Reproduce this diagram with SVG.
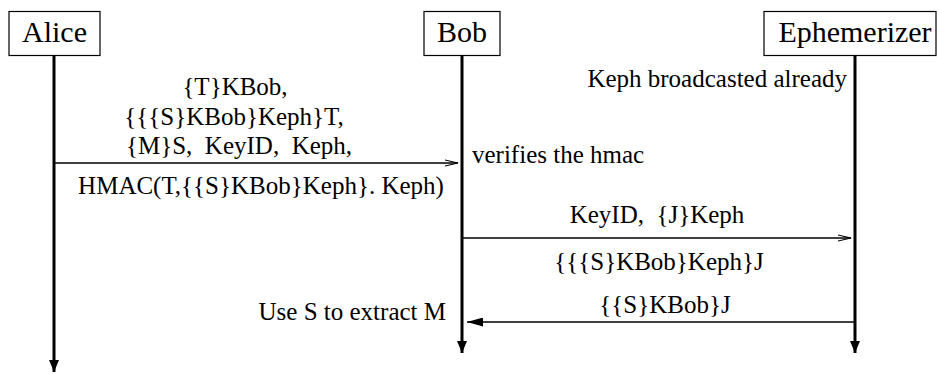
<svg xmlns="http://www.w3.org/2000/svg" width="937" height="374" viewBox="0 0 937 374">
<defs>
<style>
text{fill:#000}
.node{font-size:30px}
.lbl{font-size:25px}
.box{fill:#fff;stroke:#000;stroke-width:1.2}
.life{stroke:#000;stroke-width:3;fill:none}
.msg{stroke:#000;stroke-width:1.5;fill:none}
</style>
<marker id="down" markerWidth="12" markerHeight="10" refX="12" refY="5" orient="auto" markerUnits="userSpaceOnUse" viewBox="0 0 12 10">
<path d="M0,0 L12,5 L0,10 Z" fill="#000"/>
</marker>
<marker id="open" markerWidth="14" markerHeight="8" refX="13" refY="4" orient="auto" markerUnits="userSpaceOnUse" viewBox="0 0 14 8">
<path d="M0,1 L13,4 L0,7" fill="none" stroke="#000" stroke-width="1.2"/>
</marker>
<marker id="fill" markerWidth="16" markerHeight="9" refX="16" refY="4.5" orient="auto" markerUnits="userSpaceOnUse" viewBox="0 0 16 9">
<path d="M0,0 L16,4.5 L0,9 Z" fill="#000"/>
</marker>
</defs>
<g id="alice">
<rect class="box" x="9" y="11.5" width="91" height="44"/>
<text class="node" x="54.5" y="42" text-anchor="middle" font-family="Times">Alice</text>
</g>
<g id="bob">
<rect class="box" x="424" y="11.5" width="76" height="44"/>
<text class="node" x="462" y="42" text-anchor="middle" font-family="Times">Bob</text>
</g>
<g id="ephemerizer">
<rect class="box" x="764" y="11.5" width="172" height="44"/>
<text class="node" x="855" y="42" text-anchor="middle" font-family="Times">Ephemerizer</text>
</g>
<g id="connectors">
<line class="life" x1="54" y1="56" x2="54" y2="372" marker-end="url(#down)"/>
<line class="life" x1="462" y1="56" x2="462" y2="353" marker-end="url(#down)"/>
<line class="life" x1="855" y1="56" x2="855" y2="353" marker-end="url(#down)"/>
<line class="msg" x1="55" y1="163" x2="458" y2="163" marker-end="url(#open)"/>
<line class="msg" x1="463" y1="238" x2="851" y2="238" marker-end="url(#open)"/>
<line class="msg" x1="854" y1="322" x2="467" y2="322" marker-end="url(#fill)"/>
</g>
<g id="labels">
<text class="lbl" x="235" y="95" text-anchor="middle" font-family="Times">{T}KBob,</text>
<text class="lbl" x="234" y="125" text-anchor="middle" font-family="Times">{{{S}KBob}Keph}T,</text>
<text class="lbl" x="239" y="154" text-anchor="middle" xml:space="preserve" font-family="Times">{M}S,  KeyID,  Keph,</text>
<text class="lbl" x="261" y="194" text-anchor="middle" font-family="Times">HMAC(T,{{S}KBob}Keph}. Keph)</text>
<text class="lbl" x="847" y="87" text-anchor="end" font-family="Times">Keph broadcasted already</text>
<text class="lbl" x="472" y="163" font-family="Times">verifies the hmac</text>
<text class="lbl" x="657" y="223" text-anchor="middle" xml:space="preserve" font-family="Times">KeyID,  {J}Keph</text>
<text class="lbl" x="659" y="270" text-anchor="middle" font-family="Times">{{{S}KBob}Keph}J</text>
<text class="lbl" x="665" y="313" text-anchor="middle" font-family="Times">{{S}KBob}J</text>
<text class="lbl" x="446" y="320" text-anchor="end" font-family="Times">Use S to extract M</text>
</g>
</svg>
